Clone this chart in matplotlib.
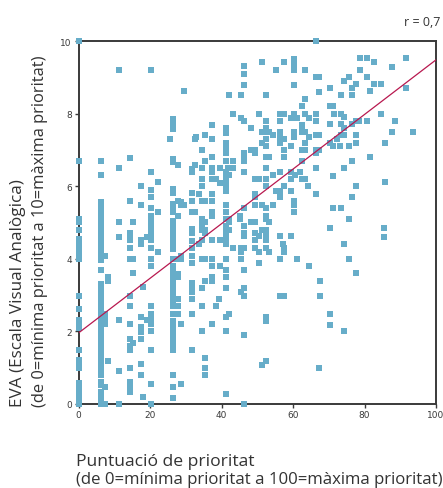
import matplotlib.pyplot as plt

# columnes verticals (puntuació de prioritat) amb els valors EVA de cada una
col_prioritat = [0, 6.3, 7.3, 8.3, 11.3, 14.3, 15.3, 17.4, 18.1, 19.2, 20.2,
                 22.2, 25.5, 26.5, 27.7, 28.6, 29.5, 31.6, 32.5, 32.9]
col_eva = [
    [10.0, 6.7, 5.1, 5.0, 4.8, 4.55, 4.45, 4.35, 4.25, 4.15, 4.0, 2.97, 2.6,
     2.3, 2.25, 2.07, 1.48, 1.2, 1.1, 0.98, 0.57, 0.48, 0.41, 0.25, 0.13, 0.0],
    [6.7, 6.3, 5.55, 5.45, 5.35, 5.25, 5.15, 5.05, 4.95, 4.85, 4.75, 4.65,
     4.55, 4.45, 4.35, 4.25, 4.15, 4.05, 3.95, 3.68, 3.3, 3.2, 3.1, 3.0, 2.9,
     2.8, 2.7, 2.6, 2.5, 2.4, 2.3, 2.2, 2.02, 1.92, 1.82, 1.72, 1.62, 1.5,
     1.4, 1.24, 1.14, 1.04, 0.94, 0.78, 0.59, 0.5, 0.32, 0.22, 0.12, 0.0],
    [4.07, 2.48, 2.38, 2.28, 2.18, 0.46, 0.0],
    [3.49, 3.38, 1.17],
    [9.19, 6.49, 5.0, 4.59, 2.3, 0.89, 0.0],
    [6.78, 5.58, 4.7, 4.6, 4.5, 4.28, 3.99, 2.97, 2.68, 2.18, 1.77, 1.6,
     1.47, 0.98, 0.59, 0.49, 0.4, 0.32],
    [5.0, 3.99, 3.59, 1.67],
    [5.99, 5.48, 4.51, 4.4, 2.39, 2.11, 1.98, 1.77, 1.1, 0.78],
    [3.21, 0.18],
    [4.59, 2.3],
    [9.19, 6.39, 5.9, 5.71, 5.38, 5.18, 5.0, 4.9, 4.78, 4.68, 4.52, 4.28,
     3.99, 3.79, 2.68, 2.48, 2.38, 2.28, 2.18, 1.99, 1.47, 0.55, 0.0],
    [6.1, 5.27, 4.17],
    [7.3],
    [7.86, 7.76, 7.66, 7.56, 6.75, 6.65, 5.92, 5.8, 5.5, 5.4, 5.28, 5.04,
     4.94, 4.84, 4.74, 4.64, 4.54, 4.44, 4.34, 4.26, 3.99, 3.8, 3.7, 3.6,
     3.5, 3.4, 3.3, 3.2, 3.1, 3.0, 2.9, 2.8, 2.7, 2.48, 2.27, 2.11, 2.0,
     1.93, 1.77, 1.67, 1.6, 1.47, 0.78, 0.46, 0.15],
    [6.58, 5.59, 5.18, 3.99, 3.57, 3.49, 2.87, 2.68, 2.48],
    [5.57, 5.48, 4.08, 3.99, 2.18, 0.55],
    [8.61, 5.48],
    [6.47, 6.38, 5.8, 5.58, 5.27, 4.81, 4.7, 4.49, 4.28, 4.08, 3.88, 3.33,
     3.25, 3.08, 2.87, 2.48, 1.47],
    [7.3, 6.59, 5.27],
    [7.35],
]

# files horitzontals (valor EVA) amb les puntuacions de prioritat de cada una
fila_eva = [10.0, 9.52, 9.5, 9.43, 9.42, 9.4, 9.3, 9.29, 9.2, 9.19, 9.1,
            9.0, 8.9, 8.81, 8.8, 8.7, 8.61, 8.6, 8.51, 8.5, 8.41, 8.22, 8.0,
            7.99, 7.89, 7.88, 7.8, 7.79, 7.71, 7.69, 7.6, 7.59, 7.5, 7.49,
            7.45, 7.4, 7.35, 7.3, 7.2, 7.11, 7.1, 7.0, 6.9, 6.8, 6.79, 6.7,
            6.68, 6.49, 6.38, 6.29, 6.28, 6.19, 6.1, 6.08, 5.99, 5.87, 5.78,
            5.69, 5.6, 5.48, 5.38, 5.27, 5.18, 5.09, 5.0, 4.91, 4.83, 4.8,
            4.7, 4.61, 4.6, 4.51, 4.4, 4.28, 4.17, 3.99, 3.88, 3.78, 3.68,
            3.59, 3.48, 3.39, 3.2, 3.08, 2.97, 2.87, 2.68, 2.48, 2.47, 2.39,
            2.27, 2.18, 2.17, 1.99, 1.88, 1.26, 1.16, 1.07, 0.98, 0.78,
            0.25, 0.0]
fila_prioritat = [
    [66.3], [78.6, 80.6, 91.5], [60.3], [82.6], [51.4, 57.4], [60.3],
    [46.4, 60.3], [87.6], [78.6], [55.3, 60.3, 63.3], [46.4],
    [66.3, 67.2, 75.6, 80.6], [74.2], [77.5, 82.6, 84.5], [46.4, 60.3],
    [70.3, 76.6, 91.5], [81.4], [67.2], [73.3, 76.6], [42.2, 45.3, 52.3],
    [63.3], [62.4, 70.3, 71.2], [71.4, 73.3, 84.5],
    [43.3, 50.4, 56.3, 57.4, 60.3, 63.3, 66.3], [74.2],
    [45.3, 59.4, 61.2, 64.4], [77.5, 78.4, 80.6, 88.5],
    [46.4, 52.3, 56.3, 66.3], [70.3, 73.3, 76.6], [37.3, 62.4],
    [41.3, 48.3, 52.3, 62.4], [74.2], [87.6, 93.6],
    [51.4, 52.3, 53.3, 56.3, 60.3, 62.4, 63.3], [41.3],
    [35.4, 54.4, 66.3, 67.2, 73.3, 74.2, 77.5], [56.3, 60.3, 64.4],
    [37.3, 52.3, 57.4, 72.2], [41.3, 51.4, 56.3, 63.3, 70.3, 77.5, 85.6],
    [71.2, 73.1, 75.6], [41.3, 52.3, 59.4],
    [34.5, 41.3, 48.3, 49.2, 57.4, 62.4, 63.3, 66.3, 67.2],
    [41.3, 46.4, 49.2, 66.3], [37.3, 46.4, 52.3, 53.3, 57.4], [81.5],
    [35.4, 41.3, 43.3, 46.4, 62.4], [76.6],
    [34.5, 37.3, 39.5, 41.9, 43.3, 52.3, 66.3, 74.2],
    [37.3, 41.3, 46.4, 56.3, 59.4, 61.9], [41.3, 42.2, 54.4, 60.5], [71.2],
    [34.5, 37.3, 38.4, 41.3, 49.2, 50.4, 52.3, 59.4, 62.4, 63.3], [85.6],
    [39.5, 41.3], [34.5, 41.3, 52.3, 57.4, 64.2, 77.5],
    [41.3, 55.3, 56.3, 59.4], [33.8, 37.3, 49.2, 66.3], [49.2, 56.3, 76.6],
    [34.5, 35.4, 37.3, 60.3], [41.3, 49.2, 51.4, 54.4, 60.3],
    [46.4, 52.3, 71.2, 73.3], [37.3, 41.3, 60.3], [37.3, 45.2, 52.3],
    [34.5, 41.3, 42.2, 45.2, 52.3, 75.6],
    [34.5, 35.4, 42.2, 48.3, 49.2, 53.3], [34.5, 41.3, 46.4], [70.3, 85.4],
    [34.5, 35.4, 41.3, 42.2, 51.4, 52.3], [35.4, 41.3, 46.4, 49.2],
    [41.3, 46.4, 50.4, 52.3, 56.3, 59.4], [85.4],
    [34.5, 37.3, 39.5, 41.3, 49.2, 52.3], [33.8, 41.3, 57.2, 74.2],
    [43.3, 45.5, 46.4, 49.2, 52.3, 57.4], [45.5, 50.4, 53.3, 57.4],
    [34.5, 35.4, 37.3, 41.3, 45.5, 56.3, 61.2, 75.6], [50.4],
    [37.3, 39.5, 64.4], [41.3, 46.4], [77.5], [37.3, 41.3],
    [35.4, 37.3, 67.5], [34.5, 41.3, 46.4], [45.5],
    [46.4, 56.3, 57.4, 67.5], [39.3], [34.5, 38.3], [42.2], [70.3],
    [41.3, 52.3], [52.3], [37.3], [70.3], [34.5, 41.3, 74.2], [46.4],
    [35.4], [52.3], [51.4], [35.4, 67.2], [35.4], [41.3], [46.4],
]

# recta de regressió
r_text = 'r = 0,7'
intercept = 1.95
pendent = 0.0753

blau = '#67adc9'
vermell = '#b8184f'
gris = '#333333'

xs, ys = [], []
for x, llista in zip(col_prioritat, col_eva):
    xs += [x] * len(llista)
    ys += llista
for y, llista in zip(fila_eva, fila_prioritat):
    xs += llista
    ys += [y] * len(llista)

fig = plt.figure(figsize=(4.43, 4.89), dpi=100)
ax = fig.add_axes([0.1777, 0.1728, 0.8065, 0.7413])

ax.scatter(xs, ys, s=14, marker='s', color=blau, linewidths=0,
           clip_on=False, zorder=3)
ax.plot([0, 100], [intercept, intercept + pendent * 100], color=vermell,
        lw=0.9, zorder=4)

ax.set_xlim(0, 100)
ax.set_ylim(0, 10)
ax.set_xticks(range(0, 101, 20))
ax.set_yticks(range(0, 11, 2))
for sp in ax.spines.values():
    sp.set_color('#3a3a3a')
    sp.set_linewidth(1.4)
ax.tick_params(direction='out', length=3, width=1, colors='#3a3a3a',
               labelsize=6.5, pad=2)

font = 'Open Sans'
fig.text(0.995, 0.955, r_text, ha='right', va='center', fontsize=9,
         color=gris, family=font)

# etiquetes dels eixos
fig.text(0.172, 0.047, 'Puntuació de prioritat', ha='left',
         va='baseline', fontsize=12.6, color=gris, family=font)
fig.text(0.172, 0.011, '(de 0=mínima prioritat a 100=màxima prioritat)',
         ha='left', va='baseline', fontsize=12.1, color=gris, family=font)
fig.text(0.04, 0.168, 'EVA (Escala Visual Analògica)', rotation=90,
         ha='center', va='bottom', fontsize=12.3, color=gris, family=font)
fig.text(0.09, 0.168, '(de 0=mínima prioritat a 10=màxima prioritat)',
         rotation=90, ha='center', va='bottom', fontsize=11.9, color=gris,
         family=font)

plt.savefig('out.png', dpi=100)
